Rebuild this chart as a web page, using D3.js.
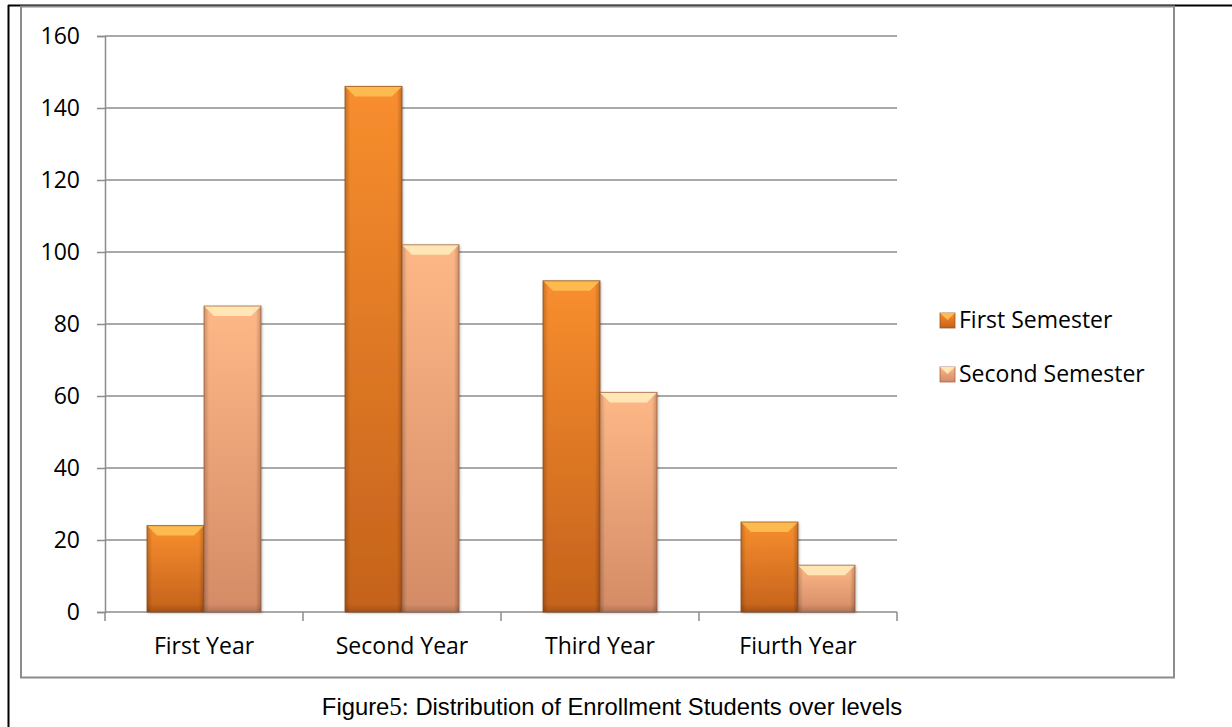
<!DOCTYPE html>
<html>
<head>
<meta charset="utf-8">
<script src="https://cdn.jsdelivr.net/npm/d3@7/dist/d3.min.js"></script>
<style>
  html, body { margin: 0; padding: 0; background: #fff; }
  svg { display: block; }
</style>
</head>
<body>
<svg id="chart" width="1232" height="727"></svg>
<script>
// Enrollment per level, split by semester
const levels = ["First Year", "Second Year", "Third Year", "Fiurth Year"];
const firstSemester = [24, 146, 92, 25];
const secondSemester = [85, 102, 61, 13];
const seriesNames = ["First Semester", "Second Semester"];
const yTicks = [0, 20, 40, 60, 80, 100, 120, 140, 160];

const svg = d3.select("#chart");
const W = 1232, H = 727;
const plot = { left: 105, right: 897, top: 36, bottom: 612 };
const labelFont = "'Open Sans', Lato, sans-serif";

const palette = [
  { top: "#F88E2E", bottom: "#C4621C", bevel: "#FDBA4E", stroke: "#8A4A16" },
  { top: "#FEB887", bottom: "#D38B66", bevel: "#FFE6B4", stroke: "#9A5A3A" }
];

const defs = svg.append("defs");
palette.forEach((c, i) => {
  const g = defs.append("linearGradient").attr("id", "fill" + i)
    .attr("x1", 0).attr("y1", 0).attr("x2", 0).attr("y2", 1);
  g.append("stop").attr("offset", "0%").attr("stop-color", c.top);
  g.append("stop").attr("offset", "100%").attr("stop-color", c.bottom);
});
const side = defs.append("linearGradient").attr("id", "sides")
  .attr("x1", 0).attr("y1", 0).attr("x2", 1).attr("y2", 0);
side.append("stop").attr("offset", "0%").attr("stop-color", "#000").attr("stop-opacity", 0.2);
side.append("stop").attr("offset", "9%").attr("stop-color", "#000").attr("stop-opacity", 0);
side.append("stop").attr("offset", "91%").attr("stop-color", "#000").attr("stop-opacity", 0);
side.append("stop").attr("offset", "100%").attr("stop-color", "#000").attr("stop-opacity", 0.22);
const base = defs.append("linearGradient").attr("id", "foot")
  .attr("x1", 0).attr("y1", 0).attr("x2", 0).attr("y2", 1);
base.append("stop").attr("offset", "0%").attr("stop-color", "#000").attr("stop-opacity", 0);
base.append("stop").attr("offset", "100%").attr("stop-color", "#000").attr("stop-opacity", 0.16);
const shadow = defs.append("filter").attr("id", "shadow")
  .attr("x", "-20%").attr("y", "-5%").attr("width", "140%").attr("height", "115%");
shadow.append("feDropShadow").attr("dx", 1).attr("dy", 1).attr("stdDeviation", 1.5)
  .attr("flood-color", "#000").attr("flood-opacity", 0.3);

// Page frame and chart border
svg.append("line").attr("x1", 8).attr("y1", 5.5).attr("x2", W).attr("y2", 5.5)
  .attr("stroke", "#000").attr("stroke-width", 2);
svg.append("line").attr("x1", 8.5).attr("y1", 5).attr("x2", 8.5).attr("y2", H)
  .attr("stroke", "#000").attr("stroke-width", 2);
svg.append("rect").attr("x", 21).attr("y", 6.5).attr("width", 1153).attr("height", 671)
  .attr("fill", "#fff").attr("stroke", "#8c8c8c").attr("stroke-width", 2);

const y = d3.scaleLinear().domain([0, 160]).range([plot.bottom, plot.top]);
const x0 = d3.scaleBand().domain(levels).range([plot.left, plot.right])
  .paddingInner(0.424).paddingOuter(0.212);
const x1 = d3.scaleBand().domain(seriesNames).range([0, x0.bandwidth()]);

// Horizontal gridlines
svg.append("g").selectAll("line").data(yTicks.filter(d => d > 0)).join("line")
  .attr("x1", plot.left).attr("x2", plot.right)
  .attr("y1", d => y(d)).attr("y2", d => y(d))
  .attr("stroke", "#8c8c8c").attr("stroke-width", 1.5);

// Y axis
const yAxis = svg.append("g").attr("transform", `translate(${plot.left},0)`)
  .call(d3.axisLeft(y).tickValues(yTicks).tickSize(8).tickPadding(17));
yAxis.select(".domain").attr("stroke", "#8c8c8c").attr("stroke-width", 1.5);
yAxis.selectAll(".tick line").attr("stroke", "#8c8c8c").attr("stroke-width", 1.5);
yAxis.selectAll(".tick text").attr("font-family", labelFont)
  .attr("font-size", 23).attr("fill", "#000");

// X axis with category boundary ticks
const xAxisG = svg.append("g");
xAxisG.append("line").attr("x1", plot.left).attr("x2", plot.right)
  .attr("y1", plot.bottom).attr("y2", plot.bottom)
  .attr("stroke", "#8c8c8c").attr("stroke-width", 1.5);
const bounds = levels.map(d => x0(d) - x0.step() * x0.paddingInner() / 2).concat([plot.right]);
xAxisG.selectAll("line.tick").data(bounds).join("line").attr("class", "tick")
  .attr("x1", d => d).attr("x2", d => d)
  .attr("y1", plot.bottom).attr("y2", plot.bottom + 9)
  .attr("stroke", "#8c8c8c").attr("stroke-width", 1.5);
xAxisG.selectAll("text").data(levels).join("text")
  .attr("x", d => x0(d) + x0.bandwidth() / 2).attr("y", 654)
  .attr("text-anchor", "middle")
  .attr("font-family", labelFont).attr("font-size", 23)
  .text(d => d);

// Bars
const rows = levels.map((lv, i) => ({
  level: lv,
  values: [firstSemester[i], secondSemester[i]].map((v, s) => ({ s, name: seriesNames[s], v }))
}));
const groups = svg.append("g").selectAll("g").data(rows).join("g")
  .attr("transform", d => `translate(${x0(d.level)},0)`);
const bars = groups.selectAll("g").data(d => d.values).join("g")
  .attr("transform", d => `translate(${x1(d.name)},0)`);

bars.append("rect")
  .attr("x", 0).attr("y", d => y(d.v))
  .attr("width", x1.bandwidth()).attr("height", d => y(0) - y(d.v))
  .attr("fill", d => `url(#fill${d.s})`)
  .attr("filter", "url(#shadow)");
bars.append("rect")
  .attr("x", 0).attr("y", d => y(d.v))
  .attr("width", x1.bandwidth()).attr("height", d => y(0) - y(d.v))
  .attr("fill", "url(#sides)");
bars.append("rect")
  .attr("x", 0).attr("y", d => y(0) - 8)
  .attr("width", x1.bandwidth()).attr("height", 8)
  .attr("fill", "url(#foot)");
bars.append("path")
  .attr("d", d => {
    const w = x1.bandwidth(), t = y(d.v), b = 10;
    return `M0,${t}H${w}L${w - b},${t + b}H${b}Z`;
  })
  .attr("fill", d => palette[d.s].bevel);
bars.append("rect")
  .attr("x", 0).attr("y", d => y(d.v))
  .attr("width", x1.bandwidth()).attr("height", d => y(0) - y(d.v))
  .attr("fill", "none")
  .attr("stroke", d => palette[d.s].stroke).attr("stroke-opacity", 0.7).attr("stroke-width", 1);

// Legend
const legend = svg.append("g");
const legendY = [320, 374];
seriesNames.forEach((name, i) => {
  const g = legend.append("g").attr("transform", `translate(940,${legendY[i] - 7})`);
  g.append("rect").attr("width", 15).attr("height", 15).attr("fill", `url(#fill${i})`)
    .attr("stroke", palette[i].stroke).attr("stroke-opacity", 0.7);
  g.append("path").attr("d", "M0,0H15L7.5,7Z").attr("fill", palette[i].bevel);
  legend.append("text").attr("x", 959).attr("y", legendY[i] + 8)
    .attr("font-family", labelFont).attr("font-size", 23)
    .text(name);
});

// Caption
const cap = svg.append("text").attr("x", 612).attr("y", 715).attr("text-anchor", "middle")
  .attr("font-family", "'Liberation Sans', Arial, sans-serif").attr("font-size", 23.8);
cap.append("tspan").text("Figure");
cap.append("tspan").attr("font-family", "'Liberation Serif', serif").attr("font-size", 25).text("5:");
cap.append("tspan").text(" Distribution of Enrollment Students over levels");
</script>
</body>
</html>
